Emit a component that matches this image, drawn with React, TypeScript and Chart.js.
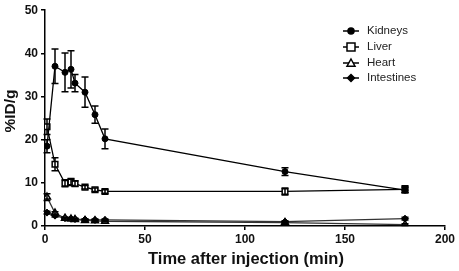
import React, { useEffect, useRef } from "react";
import { Chart, registerables } from "chart.js";

Chart.register(...registerables);

const times = [1, 5, 10, 13, 15, 20, 25, 30, 120, 180];
const kidneys = [18.5, 37.0, 35.6, 36.3, 33.1, 31.0, 25.8, 20.2, 12.6, 8.3];
const kidneysErr = [1.5, 4.0, 4.5, 4.3, 2.0, 3.5, 2.0, 2.3, 0.9, 0.6];
const liver = [23.0, 14.3, 9.9, 10.2, 9.8, 9.0, 8.4, 8.0, 8.0, 8.5];
const liverErr = [1.8, 1.5, 0.8, 0.8, 0.6, 0.4, 0.4, 0.4, 0.8, 0.8];
const heart = [6.7, 3.0, 1.8, 1.6, 1.5, 1.3, 1.2, 1.1, 0.8, 0.3];
const heartErr = [0.8, 0.3, 0.2, 0.2, 0.2, 0.2, 0.2, 0.2, 0.2, 0.2];
const intestines = [3.1, 2.4, 1.8, 1.7, 1.6, 1.5, 1.4, 1.4, 1.0, 1.7];
const intestinesErr = [0.3, 0.3, 0.2, 0.2, 0.2, 0.2, 0.2, 0.2, 0.2, 0.3];
const labels = ["Kidneys", "Liver", "Heart", "Intestines"];
const yTicks = [0, 10, 20, 30, 40, 50];
const xTicks = [0, 50, 100, 150, 200];
const xTitle = "Time after injection (min)";
const yTitle = "%ID/g";

const FONT = "'Liberation Sans', Arial, sans-serif";

const errorBarPlugin = {
  id: "errorBars",
  afterDatasetsDraw(chart: any) {
    const ctx = chart.ctx;
    const xs = chart.scales.x;
    const ys = chart.scales.y;
    ctx.save();
    chart.data.datasets.forEach((ds: any) => {
      const errs = ds.errors as number[];
      if (!errs) return;
      ctx.strokeStyle = "#000";
      ctx.lineWidth = 1.5;
      ds.data.forEach((p: any, i: number) => {
        const e = errs[i];
        const x = xs.getPixelForValue(p.x);
        const yt = ys.getPixelForValue(p.y + e);
        const yb = ys.getPixelForValue(p.y - e);
        ctx.beginPath();
        ctx.moveTo(x, yt);
        ctx.lineTo(x, yb);
        ctx.moveTo(x - 3.5, yt);
        ctx.lineTo(x + 3.5, yt);
        ctx.moveTo(x - 3.5, yb);
        ctx.lineTo(x + 3.5, yb);
        ctx.stroke();
      });
    });
    ctx.restore();
  },
};

function drawMarker(ctx: CanvasRenderingContext2D, style: string, x: number, y: number, r: number, fill: string) {
  ctx.save();
  ctx.fillStyle = fill;
  ctx.strokeStyle = "#000";
  ctx.lineWidth = 1.5;
  ctx.beginPath();
  if (style === "circle") {
    ctx.arc(x, y, r, 0, Math.PI * 2);
  } else if (style === "rect") {
    ctx.rect(x - r, y - r, 2 * r, 2 * r);
  } else if (style === "triangle") {
    ctx.moveTo(x, y - r);
    ctx.lineTo(x + r, y + r * 0.8);
    ctx.lineTo(x - r, y + r * 0.8);
    ctx.closePath();
  } else {
    ctx.moveTo(x, y - r);
    ctx.lineTo(x + r, y);
    ctx.lineTo(x, y + r);
    ctx.lineTo(x - r, y);
    ctx.closePath();
  }
  ctx.fill();
  ctx.stroke();
  ctx.restore();
}

const legendPlugin = {
  id: "customLegend",
  afterDraw(chart: any) {
    const ctx = chart.ctx;
    ctx.save();
    const x0 = 343;
    const x1 = 359;
    const tx = 367;
    const rows = [31, 47, 63, 78];
    chart.data.datasets.forEach((ds: any, i: number) => {
      const y = rows[i];
      ctx.strokeStyle = "#000";
      ctx.lineWidth = 1.5;
      ctx.beginPath();
      ctx.moveTo(x0, y);
      ctx.lineTo(x1, y);
      ctx.stroke();
      const bg = Array.isArray(ds.pointBackgroundColor) ? ds.pointBackgroundColor[0] : ds.pointBackgroundColor;
      drawMarker(ctx, ds.pointStyle, (x0 + x1) / 2, y, ds.pointRadius, bg);
      ctx.fillStyle = "#222";
      ctx.font = `11.5px ${FONT}`;
      ctx.textBaseline = "middle";
      ctx.textAlign = "left";
      ctx.fillText(ds.label, tx, y);
    });
    // axis titles
    ctx.fillStyle = "#111";
    ctx.font = `bold 16.5px ${FONT}`;
    ctx.textAlign = "center";
    ctx.textBaseline = "alphabetic";
    ctx.fillText(xTitle, 246, 264);
    ctx.save();
    ctx.translate(15, 111);
    ctx.rotate(-Math.PI / 2);
    ctx.font = `bold 15.5px ${FONT}`;
    ctx.fillText(yTitle, 0, 0);
    ctx.restore();
    ctx.restore();
  },
};

function pts(vals: number[]) {
  return vals.map((v, i) => ({ x: times[i], y: v }));
}

export default function App() {
  const ref = useRef<HTMLCanvasElement>(null);
  useEffect(() => {
    if (!ref.current) return;
    const chart = new Chart(ref.current, {
      type: "line",
      data: {
        datasets: [
          {
            label: labels[0],
            data: pts(kidneys),
            errors: kidneysErr,
            borderColor: "#000",
            borderWidth: 1.3,
            pointStyle: "circle",
            pointRadius: 3,
            pointBackgroundColor: "#000",
            pointBorderColor: "#000",
            pointBorderWidth: 1,
          } as any,
          {
            label: labels[1],
            data: pts(liver),
            errors: liverErr,
            borderColor: "#000",
            borderWidth: 1.3,
            pointStyle: "rect",
            pointRadius: 4,
            pointBackgroundColor: liver.map((_, i) => (i === liver.length - 1 ? "#111" : "#fff")),
            pointBorderColor: "#000",
            pointBorderWidth: 1.5,
          } as any,
          {
            label: labels[2],
            data: pts(heart),
            errors: heartErr,
            borderColor: "#333",
            borderWidth: 1.3,
            pointStyle: "triangle",
            pointRadius: 4,
            pointBackgroundColor: "#fff",
            pointBorderColor: "#000",
            pointBorderWidth: 1.5,
          } as any,
          {
            label: labels[3],
            data: pts(intestines),
            errors: intestinesErr,
            borderColor: "#333",
            borderWidth: 1.3,
            pointStyle: "rectRot",
            pointRadius: 3.5,
            pointBackgroundColor: "#000",
            pointBorderColor: "#000",
            pointBorderWidth: 1,
          } as any,
        ],
      },
      options: {
        animation: false,
        responsive: false,
        layout: { padding: { left: 0, right: 14, top: 8, bottom: 0 } },
        plugins: { legend: { display: false }, tooltip: { enabled: false } },
        scales: {
          x: {
            type: "linear",
            min: 0,
            max: 200,
            afterFit: (s: any) => {
              s.height = 45;
            },
            afterBuildTicks: (s: any) => {
              s.ticks = xTicks.map((v) => ({ value: v }));
            },
            ticks: {
              color: "#111",
              font: { family: FONT, size: 12, weight: "bold" },
              padding: 2,
              maxRotation: 0,
            },
            grid: { display: true, drawOnChartArea: false, drawTicks: true, tickLength: 4, color: "#000", lineWidth: 1.5 },
            border: { color: "#000", width: 1.5 },
            title: { display: false },
          },
          y: {
            type: "linear",
            min: 0,
            max: 50,
            afterFit: (s: any) => {
              s.width = 45;
            },
            afterBuildTicks: (s: any) => {
              s.ticks = yTicks.map((v) => ({ value: v }));
            },
            ticks: {
              color: "#111",
              font: { family: FONT, size: 12, weight: "bold" },
              padding: 3,
            },
            grid: { display: true, drawOnChartArea: false, drawTicks: true, tickLength: 4, color: "#000", lineWidth: 1.5 },
            border: { color: "#000", width: 1.5 },
            title: { display: false },
          },
        },
      } as any,
      plugins: [errorBarPlugin, legendPlugin],
    });
    return () => chart.destroy();
  }, []);
  return (
    <div style={{ position: "fixed", left: 0, top: 0, width: 459, height: 271, background: "#fff" }}>
      <canvas ref={ref} width={459} height={271} style={{ width: 459, height: 271 }} />
    </div>
  );
}
